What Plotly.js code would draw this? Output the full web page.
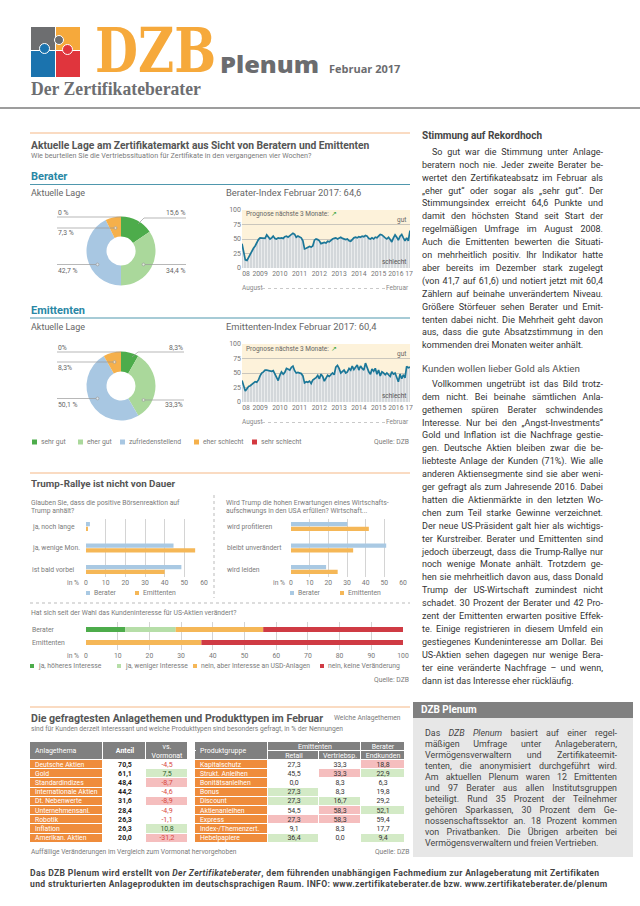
<!DOCTYPE html>
<html lang="de"><head><meta charset="utf-8"><title>DZB Plenum Februar 2017</title>
<script src="https://cdn.plot.ly/plotly-3.0.1.min.js"></script>
<style>
html,body{margin:0;padding:0;background:#fff;}
#page{position:relative;width:640px;height:906px;overflow:hidden;background:#fff;font-family:Roboto,'Noto Sans',sans-serif;}
#chart{position:absolute;left:0;top:0;width:640px;height:906px;}
.abs{position:absolute;white-space:nowrap;}
.ln{position:absolute;white-space:nowrap;text-align:justify;text-align-last:justify;}
.ln.last{text-align-last:left;}
</style></head><body>
<div id="page">
  <div id="chart"></div>
  <div id="overlay"></div>
</div>
<script>
// ================= DATA =================
const sentimentLabels = ['sehr gut','eher gut','zufriedenstellend','eher schlecht','sehr schlecht'];
const beraterLage = [15.6, 34.4, 42.7, 7.3, 0];
const emittentenLage = [8.3, 33.3, 50.1, 8.3, 0];

const indexStartYear = 2008, indexStartMonth = 8; // August 2008, monthly
const beraterIndex = [42,28,14,13,19,25,30,34,38,45,49,52,52,52,51,57,54,50,52,55,
  51,50,52,51,52,51,54,55,53,56,59,60,58,53,55,53,52,47,33,34,
  36,37,36,38,48,50,49,47,42,43,44,43,46,45,48,50,51,52,50,52,
  53,51,50,49,50,47,46,49,52,53,52,54,53,55,54,56,55,51,50,52,
  50,53,52,55,58,57,54,52,50,53,49,45,52,57,53,48,55,58,52,47,
  52,47,64.6];
const emittentenIndex = [37,27,19,23,27,28,31,33,35,34,38,45,50,52,55,55,54,54,53,54,
  48,45,37,46,52,48,51,58,56,55,60,62,54,50,51,50,49,45,33,35,
  34,36,32,38,40,42,46,40,48,44,36,42,46,44,48,50,47,60,63,58,
  50,52,55,50,52,58,55,62,56,60,64,55,62,58,55,67,58,52,48,57,
  53,58,48,55,45,52,50,47,50,46,44,52,48,50,42,35,48,40,47,41.7,
  61.6,59,60.4];
const indexTickDates = ['2008-10-15','2009-07-01','2010-07-01','2011-07-01','2012-07-01','2013-07-01','2014-07-01','2015-07-01','2016-05-15','2017-01-15'];
const indexTickLabels = ['08','2009','2010','2011','2012','2013','2014','2015','2016','17'];

const groups = ['Berater','Emittenten'];
const q1Categories = ['ja, noch lange','ja, wenige Mon.','ist bald vorbei'];
const q1Berater = [2, 44.5, 48.5];
const q1Emittenten = [1, 55.5, 40];
const q2Categories = ['wird profitieren','bleibt unverändert','wird leiden'];
const q2Berater = [30.2, 51.0, 18.8];
const q2Emittenten = [41.7, 33.3, 25.0];

const usAnswers = ['ja, höheres Interesse','ja, weniger Interesse','nein, aber Interesse an USD-Anlagen','nein, keine Veränderung'];
const usBerater = [12.4, 15.9, 27.6, 44.1];
const usEmittenten = [0, 0, 36.4, 63.6];

const themenHeader = ['Anlagethema','Anteil','vs.<br>Vormonat'];
const themen = ['Deutsche Aktien','Gold','Standardindizes','Internationale Aktien','Dt. Nebenwerte','Unternehmensanl.','Robotik','Inflation','Amerikan. Aktien'];
const themenAnteil = [70.5, 61.1, 48.4, 44.2, 31.6, 28.4, 26.3, 26.3, 20.0];
const themenVsVormonat = [-4.5, 7.5, -8.7, -4.6, -8.9, -4.9, -1.1, 10.8, -31.2];
const themenAuffaellig = [0, 1, -1, 0, -1, 0, 0, 1, -1];

const produktHeader = ['Produktgruppe','Emittenten','Berater','Retail','Vertriebsp.','Endkunden'];
const produkte = ['Kapitalschutz','Strukt. Anleihen','Bonitätsanleihen','Bonus','Discount','Aktienanleihen','Express','Index-/Themenzert.','Hebelpapiere'];
const prodRetail = [27.3, 45.5, 0.0, 27.3, 27.3, 54.5, 27.3, 9.1, 36.4];
const prodVertrieb = [33.3, 33.3, 8.3, 8.3, 16.7, 58.3, 58.3, 8.3, 0.0];
const prodEndkunden = [18.8, 22.9, 6.3, 19.8, 29.2, 52.1, 59.4, 17.7, 9.4];
const retailAuffaellig = [0, 0, 0, 1, 1, 0, -1, 0, 1];
const vertriebAuffaellig = [0, -1, 0, 0, 1, -1, -1, 0, 0];
const endkundenAuffaellig = [-1, 1, 0, 0, 0, 1, 0, 0, 1];

// ================= STYLE / HELPERS =================
const W = 640, H = 906;
const FONT = 'Roboto, "Noto Sans", sans-serif';
const px = x => x / W;
const py = y => 1 - y / H;
const fmt = v => v.toFixed(1).replace('.', ',');
const SENT_COLORS = ['#4dac4b', '#aad89b', '#a8c7e2', '#f5b04b', '#d3383f'];
const BLUE = '#a9c9e3', ORANGE = '#f5b757';
const US_COLORS = ['#4dac4b', '#b6dea8', '#f5b757', '#cf3b44'];
const LINE_COL = '#1b7798';
const ann = [], shapes = [], traces = [];

function T(text, x, y, o = {}) {
  ann.push({text, x: px(x), y: py(y), xref: 'paper', yref: 'paper', xanchor: o.anchor || 'left', yanchor: 'middle',
    showarrow: false, borderpad: 0, align: o.align || 'left',
    font: {family: FONT, size: o.size || 7, color: o.color || '#7a7a7a'}});
}
function L(x0, y0, x1, y1, c = '#9a9a9a', w = 0.7, dash = 'solid') {
  shapes.push({type: 'line', xref: 'paper', yref: 'paper', x0: px(x0), y0: py(y0), x1: px(x1), y1: py(y1), line: {color: c, width: w, dash}});
}
function R(x0, y0, x1, y1, fill) {
  shapes.push({type: 'rect', xref: 'paper', yref: 'paper', x0: px(x0), y0: py(y1), x1: px(x1), y1: py(y0), fillcolor: fill, line: {width: 0}});
}
function C(x, y, r, c = '#9a9a9a') {
  shapes.push({type: 'circle', xref: 'paper', yref: 'paper', x0: px(x - r), y0: py(y + r), x1: px(x + r), y1: py(y - r), fillcolor: 'rgba(255,255,255,0.6)', line: {color: c, width: 0.7}});
}

// ================= SECTION LINES & TITLES =================
L(0, 108, 640, 108, '#9d9d9d', 2);
L(30, 133, 410, 133, '#f8cfae', 1.5);
T('<b>Aktuelle Lage am Zertifikatemarkt aus Sicht von Beratern und Emittenten</b>', 30, 145, {size: 10.3, color: '#555'});
T('Wie beurteilen Sie die Vertriebssituation für Zertifikate in den vergangenen vier Wochen?', 30, 155.5, {size: 7.2});
T('<b>Berater</b>', 30, 176, {size: 11, color: '#2a87a5'});
L(30, 184.5, 410, 184.5, '#4f97ad', 1);
T('Aktuelle Lage', 30, 193, {size: 9, color: '#666'});
T('Berater-Index Februar 2017: ' + fmt(beraterIndex[beraterIndex.length - 1]), 225, 193, {size: 9.4, color: '#666'});

T('<b>Emittenten</b>', 30, 310, {size: 11, color: '#2a87a5'});
L(30, 318, 410, 318, '#4f97ad', 1);
T('Aktuelle Lage', 30, 327, {size: 9, color: '#666'});
T('Emittenten-Index Februar 2017: ' + fmt(emittentenIndex[emittentenIndex.length - 1]), 225, 327, {size: 9.4, color: '#666'});

// ================= DONUTS =================
function donut(values, cx, cy, r) {
  traces.push({type: 'pie', values, labels: sentimentLabels, sort: false, direction: 'clockwise', rotation: 0,
    hole: 0.42, textinfo: 'none', hoverinfo: 'skip', showlegend: false,
    marker: {colors: SENT_COLORS, line: {width: 0}},
    domain: {x: [px(cx - r), px(cx + r)], y: [py(cy + r), py(cy - r)]}});
}
donut(beraterLage, 121, 251, 34.5);
donut(emittentenLage, 121, 386, 34.5);

T(fmt(beraterLage[4]).replace(',0', '') + ' %', 57, 213, {size: 6.8, color: '#666'}); L(57, 217, 121, 217);
T(fmt(beraterLage[0]) + ' %', 186, 213, {size: 6.8, color: '#666', anchor: 'right'}); L(144, 218, 186, 218); L(144, 218, 138, 224);
T(fmt(beraterLage[3]) + ' %', 57, 233.5, {size: 6.8, color: '#666'}); L(57, 228, 114, 228); C(115.5, 228, 1.4);
T(fmt(beraterLage[2]) + ' %', 57, 271, {size: 6.8, color: '#666'}); L(57, 264.5, 96, 264.5); C(97.5, 264.5, 1.4);
T(fmt(beraterLage[1]) + ' %', 186, 271, {size: 6.8, color: '#666', anchor: 'right'}); L(145, 264.5, 186, 264.5); C(143.5, 264.5, 1.4);
T(fmt(emittentenLage[4]).replace(',0', '') + '%', 57, 348, {size: 6.8, color: '#666'}); L(57, 352, 121, 352);
T(fmt(emittentenLage[0]) + '%', 184, 348, {size: 6.8, color: '#666', anchor: 'right'}); L(138, 352, 184, 352); L(138, 352, 132, 357);
T(fmt(emittentenLage[3]) + '%', 57, 367.5, {size: 6.8, color: '#666'}); L(57, 362, 113, 362); C(114.5, 362, 1.4);
T(fmt(emittentenLage[2]) + ' %', 57, 405, {size: 6.8, color: '#666'}); L(57, 398.5, 96, 398.5); C(97.5, 398.5, 1.4);
T(fmt(emittentenLage[1]) + '%', 184, 405, {size: 6.8, color: '#666', anchor: 'right'}); L(145, 400, 184, 400); C(143.5, 400, 1.4);

const legX = [32, 78, 120, 194, 252];
sentimentLabels.forEach((lab, i) => { R(legX[i], 439.5, legX[i] + 5, 444.5, SENT_COLORS[i]); T(lab, legX[i] + 8, 442, {size: 6.8}); });
T('Quelle: DZB', 410, 442, {size: 6.8, anchor: 'right'});

// ================= INDEX LINE CHARTS =================
function monthDates(n) {
  const out = [];
  for (let i = 0; i < n; i++) {
    const d = new Date(Date.UTC(indexStartYear, indexStartMonth - 1 + i, 1));
    out.push(d.toISOString().slice(0, 10));
  }
  return out;
}
function indexTrace(vals, xa, ya) {
  traces.push({type: 'scatter', mode: 'lines', x: monthDates(vals.length), y: vals, xaxis: xa, yaxis: ya,
    line: {color: LINE_COL, width: 1.7}, fill: 'tozeroy', fillcolor: '#d6dadd',
    fillpattern: {shape: '|', bgcolor: '#d3d7da', fgcolor: '#eceeef', size: 3, solidity: 0.3},
    hoverinfo: 'skip', showlegend: false});
}
indexTrace(beraterIndex, 'x', 'y');
indexTrace(emittentenIndex, 'x2', 'y2');
function indexX() {
  return {domain: [px(242), px(410)], type: 'date', range: ['2008-08-01', '2017-02-01'],
    tickvals: indexTickDates, ticktext: indexTickLabels, tickangle: 0, tickfont: {size: 6.8, color: '#777', family: FONT},
    showgrid: false, zeroline: false, showline: false, ticks: '', fixedrange: true};
}
function indexY(top, bottom) {
  return {domain: [py(bottom), py(top)], range: [0, 100], tickvals: [0, 25, 50, 75, 100],
    tickfont: {size: 7, color: '#777', family: FONT}, gridcolor: '#a9a9a9', gridwidth: 0.6,
    zeroline: false, showline: false, ticks: '', fixedrange: true};
}
[['x', 'y', 210, 268], ['x2', 'y2', 344, 402]].forEach(([xa, ya, top, bot]) => {
  shapes.push({type: 'rect', xref: xa + ' domain', yref: ya, x0: 0, x1: 1, y0: 0, y1: 100, fillcolor: '#fdf2da', line: {width: 0}, layer: 'below'});
  T('Prognose nächste 3 Monate: <span style="color:#3aa53a">↗</span>', 245, top + 4.5, {size: 6.5, color: '#666'});
  T('gut', 407, top + 10, {size: 6.5, color: '#666', anchor: 'right'});
  T('schlecht', 407, bot - 6, {size: 6.5, color: '#555', anchor: 'right'});
  T('August', 241, bot + 20, {size: 6.5, color: '#888'});
  T('Februar', 410, bot + 20, {size: 6.5, color: '#888', anchor: 'right'});
  L(262, bot + 20.5, 385, bot + 20.5, '#bbb', 0.8, 'dot');
});

// ================= TRUMP BARS =================
L(30, 473, 410, 473, '#f8cfae', 1.5);
T('<b>Trump-Rallye ist nicht von Dauer</b>', 30, 484, {size: 9.8, color: '#555'});
T('Glauben Sie, dass die positive Börsenreaktion auf', 30, 502.5, {size: 6.8});
T('Trump anhält?', 30, 511, {size: 6.8});
T('Wird Trump die hohen Erwartungen eines Wirtschafts-', 225, 502.5, {size: 6.8});
T('aufschwungs in den USA erfüllen? Wirtschaft...', 225, 511, {size: 6.8});
L(214, 495, 214, 598, '#aaa', 0.8, 'dot');

function groupBars(cats, b, e, xa, ya) {
  traces.push({type: 'bar', orientation: 'h', y: cats, x: b, xaxis: xa, yaxis: ya, marker: {color: BLUE}, hoverinfo: 'skip', showlegend: false});
  traces.push({type: 'bar', orientation: 'h', y: cats, x: e, xaxis: xa, yaxis: ya, marker: {color: ORANGE}, hoverinfo: 'skip', showlegend: false});
}
groupBars(q1Categories, q1Berater, q1Emittenten, 'x3', 'y3');
groupBars(q2Categories, q2Berater, q2Emittenten, 'x4', 'y4');
q1Categories.forEach((c, i) => ann.push({text: c, x: px(30), xref: 'paper', y: i, yref: 'y3', xanchor: 'left', yanchor: 'middle', showarrow: false, font: {family: FONT, size: 6.8, color: '#7a7a7a'}}));
q2Categories.forEach((c, i) => ann.push({text: c, x: px(225), xref: 'paper', y: i, yref: 'y4', xanchor: 'left', yanchor: 'middle', showarrow: false, font: {family: FONT, size: 6.8, color: '#7a7a7a'}}));
T('in %', 80, 582.5, {size: 6.8, anchor: 'right'});
T('in %', 286, 582.5, {size: 6.8, anchor: 'right'});
[[86, 135], [290, 340]].forEach(([a, b]) => {
  R(a, 591, a + 4, 595, BLUE); T(groups[0], a + 7, 593, {size: 6.8});
  R(b, 591, b + 4, 595, ORANGE); T(groups[1], b + 7, 593, {size: 6.8});
});
L(30, 603, 410, 603, '#aaa', 0.8, 'dot');

// ================= US INTEREST STACKED =================
T('Hat sich seit der Wahl das Kundeninteresse für US-Aktien verändert?', 30, 613, {size: 6.8});
let cumB = 0, cumE = 0;
usAnswers.forEach((a, k) => {
  traces.push({type: 'bar', orientation: 'h', y: groups, x: [usBerater[k], usEmittenten[k]], base: [cumB, cumE],
    offset: -0.19, width: 0.38, xaxis: 'x5', yaxis: 'y5', marker: {color: US_COLORS[k]}, hoverinfo: 'skip', showlegend: false});
  cumB += usBerater[k]; cumE += usEmittenten[k];
});
groups.forEach((g, i) => ann.push({text: g, x: px(30), xref: 'paper', y: i, yref: 'y5', xanchor: 'left', yanchor: 'middle', showarrow: false, font: {family: FONT, size: 6.8, color: '#7a7a7a'}}));
T('in %', 80, 655.5, {size: 6.8, anchor: 'right'});
const usLegX = [30, 117, 193, 320];
usAnswers.forEach((a, k) => { R(usLegX[k], 664, usLegX[k] + 4, 668, US_COLORS[k]); T(a, usLegX[k] + 6.5, 666, {size: 6.8}); });
T('Quelle: DZB', 410, 680, {size: 6.8, anchor: 'right'});

// ================= TABLES (heatmap cells) =================
L(30, 707, 410, 707, '#f8cfae', 1.5);
T('<b>Die gefragtesten Anlagethemen und Produkttypen im Februar</b>', 30, 718, {size: 10.6, color: '#555'});
T('Welche Anlagethemen', 333, 718, {size: 6.7});
T('sind für Kunden derzeit interessant und welche Produkttypen sind besonders gefragt, in % der Nennungen', 30, 728.5, {size: 6.7});

const ORANGE_CELL = '#ef8c3b', HEAD = '#808080', PINK = '#f5bebe', GREEN = '#d3eac6';
const CELL_SCALE = [[0, '#ffffff'], [0.2, '#ffffff'], [0.2, ORANGE_CELL], [0.4, ORANGE_CELL], [0.4, PINK], [0.6, PINK], [0.6, GREEN], [0.8, GREEN], [0.8, HEAD], [1, HEAD]];
const flagCode = f => f > 0 ? 3 : (f < 0 ? 2 : 0);
const edges = sizes => sizes.reduce((a, s) => { a.push(a[a.length - 1] + s); return a; }, [0]);
const wht = s => '<span style="color:#ffffff">' + s + '</span>';
const ROWH = 9.2;

// table 1
const t1X = edges([73, 43, 42]);
const t1Y = edges([18].concat(themen.map(() => ROWH)));
const t1Z = [[4, 4, 4]].concat(themen.map((_, i) => [1, 0, flagCode(themenAuffaellig[i])]));
const t1Text = [['', wht('<b>' + themenHeader[1] + '</b>'), themenHeader[2].split('<br>').map(wht).join('<br>')]]
  .concat(themen.map((_, i) => ['', '<b>' + fmt(themenAnteil[i]) + '</b>',
    '<span style="color:' + (themenVsVormonat[i] < 0 ? '#d8463c' : '#2e5e2e') + '">' + fmt(themenVsVormonat[i]) + '</span>']));
traces.push({type: 'heatmap', x: t1X, y: t1Y, z: t1Z, text: t1Text, texttemplate: '%{text}',
  textfont: {family: FONT, size: 7, color: '#222'}, colorscale: CELL_SCALE, zmin: -0.5, zmax: 4.5, showscale: false,
  xgap: 1, ygap: 1, hoverinfo: 'skip', xaxis: 'x6', yaxis: 'y6'});
ann.push({text: themenHeader[0], xref: 'x6', yref: 'y6', x: 2.5, y: t1Y[1] / 2, xanchor: 'left', yanchor: 'middle', showarrow: false, font: {family: FONT, size: 7, color: '#fff'}});
themen.forEach((t, i) => ann.push({text: t, xref: 'x6', yref: 'y6', x: 2.5, y: (t1Y[i + 1] + t1Y[i + 2]) / 2, xanchor: 'left', yanchor: 'middle', showarrow: false, font: {family: FONT, size: 6.8, color: '#fff'}}));

// table 2
const t2X = edges([73, 51, 42, 44]);
const t2Y = edges([9, 9].concat(produkte.map(() => ROWH)));
const t2Z = [[4, 4, 4, 4], [4, 4, 4, 4]].concat(produkte.map((_, i) => [1, flagCode(retailAuffaellig[i]), flagCode(vertriebAuffaellig[i]), flagCode(endkundenAuffaellig[i])]));
const t2Text = [['', '', '', wht(produktHeader[2])], ['', wht(produktHeader[3]), wht(produktHeader[4]), wht(produktHeader[5])]]
  .concat(produkte.map((_, i) => ['', fmt(prodRetail[i]), fmt(prodVertrieb[i]), fmt(prodEndkunden[i])]));
traces.push({type: 'heatmap', x: t2X, y: t2Y, z: t2Z, text: t2Text, texttemplate: '%{text}',
  textfont: {family: FONT, size: 7, color: '#333'}, colorscale: CELL_SCALE, zmin: -0.5, zmax: 4.5, showscale: false,
  xgap: 1, ygap: 1, hoverinfo: 'skip', xaxis: 'x7', yaxis: 'y7'});
shapes.push({type: 'rect', xref: 'x7', yref: 'y7', x0: 1, x1: t2X[1] - 1, y0: t2Y[1] - 1.5, y1: t2Y[1] + 1.5, fillcolor: HEAD, line: {width: 0}});
shapes.push({type: 'rect', xref: 'x7', yref: 'y7', x0: t2X[2] - 1.5, x1: t2X[2] + 1.5, y0: 1, y1: t2Y[1] - 1, fillcolor: HEAD, line: {width: 0}});
ann.push({text: produktHeader[0], xref: 'x7', yref: 'y7', x: 2.5, y: t2Y[2] / 2, xanchor: 'left', yanchor: 'middle', showarrow: false, font: {family: FONT, size: 7, color: '#fff'}});
ann.push({text: produktHeader[1], xref: 'x7', yref: 'y7', x: (t2X[1] + t2X[3]) / 2, y: t2Y[1] / 2, xanchor: 'center', yanchor: 'middle', showarrow: false, font: {family: FONT, size: 7, color: '#fff'}});
produkte.forEach((t, i) => ann.push({text: t, xref: 'x7', yref: 'y7', x: 2.5, y: (t2Y[i + 2] + t2Y[i + 3]) / 2, xanchor: 'left', yanchor: 'middle', showarrow: false, font: {family: FONT, size: 6.8, color: '#fff'}}));

T('Auffällige Veränderungen im Vergleich zum Vormonat hervorgehoben', 30, 852, {size: 6.7});
T('Quelle: DZB', 410, 852, {size: 6.7, anchor: 'right'});

// ================= AXES =================
function barX(l, r, max) {
  return {domain: [px(l), px(r)], range: [0, max], dtick: 10, tickfont: {size: 6.8, color: '#777', family: FONT},
    gridcolor: '#c9c9c9', gridwidth: 0.8, zeroline: false, showline: false, ticks: '', fixedrange: true};
}
function barY(top, bot, n, unit) {
  const span = (bot - top) / unit;
  const pad = (span - (n - 1)) / 2;
  return {domain: [py(bot), py(top)], type: 'category', range: [n - 1 + pad, -pad], showticklabels: false,
    showgrid: false, zeroline: false, showline: false, fixedrange: true};
}
function tableAx(l, r, total, isY) {
  return {domain: isY ? [py(r), py(l)] : [px(l), px(r)], range: isY ? [total, 0] : [0, total],
    showgrid: false, zeroline: false, showline: false, showticklabels: false, ticks: '', fixedrange: true};
}
const layout = {
  width: W, height: H, margin: {l: 0, r: 0, t: 0, b: 0},
  paper_bgcolor: 'rgba(0,0,0,0)', plot_bgcolor: 'rgba(0,0,0,0)',
  font: {family: FONT, size: 7, color: '#777'}, showlegend: false,
  barmode: 'group', bargap: 0.56, bargroupgap: 0.1,
  xaxis: indexX(), yaxis: indexY(210, 268),
  xaxis2: Object.assign(indexX(), {anchor: 'y2'}), yaxis2: Object.assign(indexY(344, 402), {anchor: 'x2'}),
  xaxis3: Object.assign(barX(86, 204, 60), {anchor: 'y3'}), yaxis3: Object.assign(barY(519, 577, 3, 21.5), {anchor: 'x3'}),
  xaxis4: Object.assign(barX(291, 403, 60), {anchor: 'y4'}), yaxis4: Object.assign(barY(519, 577, 3, 21.5), {anchor: 'x4'}),
  xaxis5: Object.assign(barX(86, 403, 100), {anchor: 'y5'}), yaxis5: Object.assign(barY(622, 650, 2, 13), {anchor: 'x5'}),
  xaxis6: Object.assign(tableAx(30, 30 + t1X[t1X.length - 1], t1X[t1X.length - 1], false), {anchor: 'y6'}),
  yaxis6: Object.assign(tableAx(742, 742 + t1Y[t1Y.length - 1], t1Y[t1Y.length - 1], true), {anchor: 'x6'}),
  xaxis7: Object.assign(tableAx(195, 195 + t2X[t2X.length - 1], t2X[t2X.length - 1], false), {anchor: 'y7'}),
  yaxis7: Object.assign(tableAx(742, 742 + t2Y[t2Y.length - 1], t2Y[t2Y.length - 1], true), {anchor: 'x7'}),
  annotations: ann, shapes: shapes
};
Plotly.newPlot('chart', traces, layout, {staticPlot: true, displayModeBar: false});

// ================= HTML TEXT (header, article column, info box, footer) =================
const ov = document.getElementById('overlay');
function div(html, css) { const d = document.createElement('div'); d.className = 'abs'; d.innerHTML = html; d.style.cssText += css; ov.appendChild(d); return d; }
div('', 'left:31px;top:27px;width:24px;height:23px;background:#6d6e70;');
div('', 'left:56px;top:27px;width:24px;height:23px;background:#f6a93b;');
div('', 'left:31px;top:51px;width:24px;height:26px;background:#1b73ae;');
div('', 'left:56px;top:51px;width:24px;height:26px;background:#e0353d;');
div('', 'left:54px;top:35px;width:8px;height:8px;border-radius:50%;background:#6d6e70;border:1px solid #fff;');
div('', 'left:39px;top:43px;width:9px;height:9px;border-radius:50%;background:#1b73ae;border:1px solid #fff;');
div('', 'left:62px;top:44px;width:9px;height:9px;border-radius:50%;background:#e0353d;border:1px solid #fff;');
div('DZB', 'left:95px;top:25.5px;height:50px;font-family:"DejaVu Serif",serif;font-weight:bold;font-size:62px;line-height:50px;color:#f6a93b;transform:scaleX(0.8);transform-origin:0 0;');
div('Plenum', 'left:220px;top:53px;font-family:"Open Sans",sans-serif;font-weight:800;font-size:22px;line-height:22px;color:#6b6c6f;transform:scaleX(1.15);transform-origin:0 0;');
div('Februar 2017', 'left:329px;top:63px;font-family:"Open Sans",sans-serif;font-weight:bold;font-size:11px;line-height:11px;color:#6b6c6f;');
div('Der Zertifikateberater', 'left:31px;top:80px;height:17px;font-family:"Liberation Serif",serif;font-weight:bold;font-size:19px;line-height:17px;color:#6d6e71;transform:scaleX(0.93);transform-origin:0 0;');

const COLX = 422, COLW = 181, LH = 12.9;
function para(lines, y0, indent) {
  lines.forEach((t, i) => {
    const d = div(t, `left:${COLX}px;top:${(y0 + i * LH - LH / 2 - 0.7).toFixed(2)}px;width:${COLW}px;height:${LH}px;line-height:${LH}px;font-size:9px;color:#333;`);
    d.className = 'ln' + (i === lines.length - 1 ? ' last' : '');
    if (i === 0) { d.style.paddingLeft = indent + 'px'; d.style.width = (COLW - indent) + 'px'; }
  });
}
div('<b>Stimmung auf Rekordhoch</b>', `left:${COLX}px;top:129px;font-size:10px;line-height:14px;color:#454545;`);
para(['So gut war die Stimmung unter Anlage-',
  'beratern noch nie. Jeder zweite Berater be-',
  'wertet den Zertifikateabsatz im Februar als',
  '„eher gut“ oder sogar als „sehr gut“. Der',
  'Stimmungsindex erreicht 64,6 Punkte und',
  'damit den höchsten Stand seit Start der',
  'regelmäßigen Umfrage im August 2008.',
  'Auch die Emittenten bewerten die Situati-',
  'on mehrheitlich positiv. Ihr Indikator hatte',
  'aber bereits im Dezember stark zugelegt',
  '(von 41,7 auf 61,6) und notiert jetzt mit 60,4',
  'Zählern auf beinahe unverändertem Niveau.',
  'Größere Störfeuer sehen Berater und Emit-',
  'tenten dabei nicht. Die Mehrheit geht davon',
  'aus, dass die gute Absatzstimmung in den',
  'kommenden drei Monaten weiter anhält.'], 153, 10);
div('Kunden wollen lieber Gold als Aktien', `left:${COLX}px;top:362px;font-size:9.8px;line-height:14px;color:#555;`);
para(['Vollkommen ungetrübt ist das Bild trotz-',
  'dem nicht. Bei beinahe sämtlichen Anla-',
  'gethemen spüren Berater schwindendes',
  'Interesse. Nur bei den „Angst-Investments“',
  'Gold und Inflation ist die Nachfrage gestie-',
  'gen. Deutsche Aktien bleiben zwar die be-',
  'liebteste Anlage der Kunden (71%). Wie alle',
  'anderen Aktiensegmente sind sie aber weni-',
  'ger gefragt als zum Jahresende 2016. Dabei',
  'hatten die Aktienmärkte in den letzten Wo-',
  'chen zum Teil starke Gewinne verzeichnet.',
  'Der neue US-Präsident galt hier als wichtigs-',
  'ter Kurstreiber. Berater und Emittenten sind',
  'jedoch überzeugt, dass die Trump-Rallye nur',
  'noch wenige Monate anhält. Trotzdem ge-',
  'hen sie mehrheitlich davon aus, dass Donald',
  'Trump der US-Wirtschaft zumindest nicht',
  'schadet. 30 Prozent der Berater und 42 Pro-',
  'zent der Emittenten erwarten positive Effek-',
  'te. Einige registrieren in diesem Umfeld ein',
  'gestiegenes Kundeninteresse am Dollar. Bei',
  'US-Aktien sehen dagegen nur wenige Bera-',
  'ter eine veränderte Nachfrage – und wenn,',
  'dann ist das Interesse eher rückläufig.'], 385, 10);

div('', 'left:413px;top:702px;width:220px;height:16px;background:#808080;');
div('<b>DZB Plenum</b>', 'left:421px;top:702px;font-size:10px;line-height:16px;color:#fff;');
div('', 'left:413px;top:718px;width:220px;height:139px;background:#e7e7e7;');
const boxLines = ['Das <i>DZB Plenum</i> basiert auf einer regel-',
  'mäßigen Umfrage unter Anlageberatern,',
  'Vermögensverwaltern und Zertifikateemit-',
  'tenten, die anonymisiert durchgeführt wird.',
  'Am aktuellen Plenum waren 12 Emittenten',
  'und 97 Berater aus allen Institutsgruppen',
  'beteiligt. Rund 35 Prozent der Teilnehmer',
  'gehören Sparkassen, 30 Prozent dem Ge-',
  'nossenschaftssektor an. 18 Prozent kommen',
  'von Privatbanken. Die Übrigen arbeiten bei',
  'Vermögensverwaltern und freien Vertrieben.'];
boxLines.forEach((t, i) => {
  const d = div(t, `left:425px;top:${(733 + i * 11 - 5.5).toFixed(1)}px;width:192px;height:11px;line-height:11px;font-size:8.9px;color:#444;`);
  d.className = 'ln' + (i === boxLines.length - 1 ? ' last' : '');
});

div('<b>Das DZB Plenum wird erstellt von <i>Der Zertifikateberater</i>, dem führenden unabhängigen Fachmedium zur Anlageberatung mit Zertifikaten</b>', 'left:30px;top:868px;height:11px;font-size:8.6px;line-height:11px;letter-spacing:0.35px;color:#444;');
div('<b>und strukturierten Anlageprodukten im deutschsprachigen Raum. INFO: www.zertifikateberater.de bzw. www.zertifikateberater.de/plenum</b>', 'left:30px;top:879px;height:11px;font-size:8.6px;line-height:11px;letter-spacing:0.35px;color:#444;');
</script>
</body></html>
